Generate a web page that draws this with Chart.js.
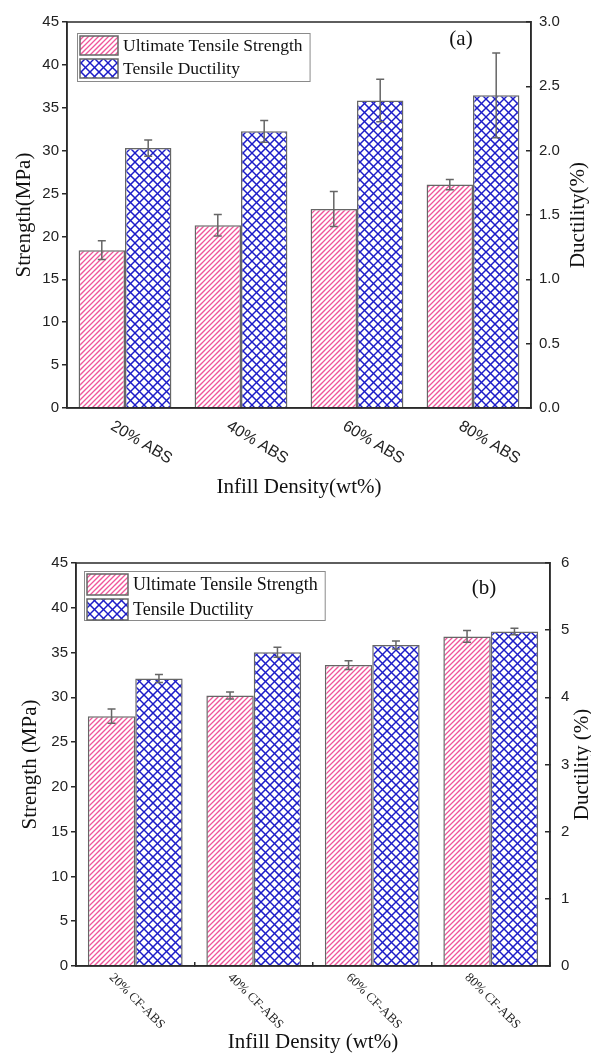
<!DOCTYPE html>
<html><head><meta charset="utf-8">
<script src="https://cdn.jsdelivr.net/npm/chart.js@4"></script>
<style>
html,body{margin:0;padding:0;background:#fff;width:591px;height:1054px;overflow:hidden}
canvas{position:absolute;left:0}
#c1{top:0}
#c2{top:515px}
</style></head><body>
<canvas id="c1" width="591" height="515"></canvas>
<canvas id="c2" width="591" height="539"></canvas>
<script>
// ---------- data ----------
const seriesLabels = ['Ultimate Tensile Strength', 'Tensile Ductility'];

const topCategories = ['20% ABS', '40% ABS', '60% ABS', '80% ABS'];
const topStrength = [18.4, 21.3, 23.2, 26.05];
const topStrengthErr = [1.1, 1.25, 2.05, 0.6];
const topDuctility = [2.02, 2.15, 2.39, 2.43];
const topDuctilityErr = [0.063, 0.085, 0.165, 0.33];

const bottomCategories = ['20% CF-ABS', '40% CF-ABS', '60% CF-ABS', '80% CF-ABS'];
const bottomStrength = [27.9, 30.2, 33.6, 36.8];
const bottomStrengthErr = [0.8, 0.4, 0.48, 0.66];
const bottomDuctility = [4.28, 4.67, 4.78, 4.98];
const bottomDuctilityErr = [0.06, 0.075, 0.06, 0.05];

// ---------- styles ----------
const SANS = '"Liberation Sans", Arial, sans-serif';
const SERIF = '"Liberation Serif", "Times New Roman", serif';
const AXIS = '#2a2a2a';
const BAR_BORDER = '#666666';
const ERR = '#666666';

function stripePattern(color) {
  const s = 20, c = document.createElement('canvas');
  c.width = c.height = s;
  const g = c.getContext('2d');
  g.fillStyle = '#fff'; g.fillRect(0, 0, s, s);
  g.strokeStyle = color; g.lineWidth = 1.3;
  for (let k = -s; k <= s; k += 5) {
    g.beginPath(); g.moveTo(k - 1, s + 1); g.lineTo(k + s + 1, -1); g.stroke();
  }
  return g.createPattern(c, 'repeat');
}
function crossPattern(color) {
  const s = 18, c = document.createElement('canvas');
  c.width = c.height = s;
  const g = c.getContext('2d');
  g.fillStyle = '#fff'; g.fillRect(0, 0, s, s);
  g.strokeStyle = color; g.lineWidth = 1.5;
  for (let k = -s; k <= s; k += 9) {
    g.beginPath(); g.moveTo(k - 1, s + 1); g.lineTo(k + s + 1, -1); g.stroke();
    g.beginPath(); g.moveTo(k - 1, -1); g.lineTo(k + s + 1, s + 1); g.stroke();
  }
  return g.createPattern(c, 'repeat');
}
const pinkFill = stripePattern('#f0559a');
const blueFill = crossPattern('#1c1cc8');

function makeChart(canvas, cfg) {
  const plugins = [{
    id: 'frameAndExtras',
    afterDatasetsDraw(chart) {
      const ctx = chart.ctx;
      // error bars
      chart.data.datasets.forEach((ds, i) => {
        const meta = chart.getDatasetMeta(i);
        const sc = chart.scales[ds.yAxisID];
        meta.data.forEach((el, j) => {
          const v = ds.data[j], e = ds.errors[j];
          const y1 = sc.getPixelForValue(v + e), y2 = sc.getPixelForValue(v - e);
          ctx.save();
          ctx.strokeStyle = ERR; ctx.lineWidth = 1.5;
          ctx.beginPath();
          ctx.moveTo(el.x, y1); ctx.lineTo(el.x, y2);
          ctx.moveTo(el.x - cfg.cap, y1); ctx.lineTo(el.x + cfg.cap, y1);
          ctx.moveTo(el.x - cfg.cap, y2); ctx.lineTo(el.x + cfg.cap, y2);
          ctx.stroke();
          ctx.restore();
        });
      });
    },
    afterDraw(chart) {
      const ctx = chart.ctx, a = chart.chartArea;
      ctx.save();
      // frame
      ctx.strokeStyle = AXIS; ctx.lineWidth = 1.5;
      ctx.strokeRect(a.left, a.top, a.right - a.left, a.bottom - a.top);
      // legend
      const L = cfg.legend;
      ctx.font = L.size + 'px ' + SERIF;
      let tw = 0;
      chart.data.datasets.forEach(ds => { tw = Math.max(tw, ctx.measureText(ds.label).width); });
      const bx = a.left + L.dx, by = a.top + L.dy;
      const bw = 3 + L.sw + 5 + tw + 7, bh = L.h;
      ctx.strokeStyle = '#8a8a8a'; ctx.lineWidth = 1;
      ctx.strokeRect(bx + 0.5, by + 0.5, bw, bh);
      chart.data.datasets.forEach((ds, i) => {
        const sy = by + 3 + i * (L.sh + 4);
        ctx.fillStyle = ds.backgroundColor;
        ctx.fillRect(bx + 3, sy, L.sw, L.sh);
        ctx.strokeStyle = BAR_BORDER; ctx.lineWidth = 1.5;
        ctx.strokeRect(bx + 3, sy, L.sw, L.sh);
        ctx.fillStyle = '#111';
        ctx.textAlign = 'left'; ctx.textBaseline = 'middle';
        ctx.fillText(ds.label, bx + 3 + L.sw + 5, sy + L.sh / 2 + 1);
      });
      // panel tag
      ctx.font = '21px ' + SERIF; ctx.fillStyle = '#111';
      ctx.textAlign = 'center'; ctx.textBaseline = 'middle';
      ctx.fillText(cfg.tag, a.right - cfg.tagDx, a.top + cfg.tagDy);
      // rotated x tick labels
      const xs = chart.scales.x;
      ctx.font = cfg.xl.font; ctx.fillStyle = '#222';
      ctx.textAlign = 'left'; ctx.textBaseline = 'middle';
      chart.data.labels.forEach((lab, i) => {
        const px = xs.getPixelForValue(i);
        ctx.save();
        ctx.translate(px + cfg.xl.dx, a.bottom + cfg.xl.dy);
        ctx.rotate(cfg.xl.angle * Math.PI / 180);
        ctx.fillText(lab, 0, 0);
        ctx.restore();
      });
      // right axis title (reads bottom-to-top)
      ctx.font = '21px ' + SERIF; ctx.fillStyle = '#111';
      ctx.textAlign = 'center'; ctx.textBaseline = 'middle';
      ctx.translate(cfg.rightTitleX, (a.top + a.bottom) / 2);
      ctx.rotate(-Math.PI / 2);
      ctx.fillText(cfg.rightTitle, 0, 0);
      ctx.restore();
    }
  }];

  return new Chart(canvas, {
    type: 'bar',
    data: {
      labels: cfg.categories,
      datasets: [
        { label: seriesLabels[0], data: cfg.strength, errors: cfg.strengthErr, yAxisID: 'y',
          backgroundColor: pinkFill, borderColor: BAR_BORDER, borderWidth: 1.5,
          categoryPercentage: 0.8, barPercentage: 1.0 },
        { label: seriesLabels[1], data: cfg.ductility, errors: cfg.ductilityErr, yAxisID: 'y1',
          backgroundColor: blueFill, borderColor: BAR_BORDER, borderWidth: 1.5,
          categoryPercentage: 0.8, barPercentage: 1.0 }
      ]
    },
    options: {
      responsive: false, animation: false, events: [],
      layout: { padding: { top: cfg.padTop, left: 0, right: 0, bottom: 0 } },
      plugins: { legend: { display: false }, tooltip: { enabled: false } },
      scales: {
        x: {
          offset: true,
          ticks: { display: false },
          grid: cfg.xTicks ? { display: true, drawOnChartArea: false, drawTicks: true, tickLength: -4, color: AXIS, lineWidth: 1.5, offset: true }
                           : { display: false },
          border: { display: true, color: AXIS, width: 1.5 },
          title: { display: true, text: cfg.xTitle, color: '#111',
                   font: { family: SERIF, size: 21, lineHeight: cfg.xTitleLH }, padding: { top: 0, bottom: cfg.xTitlePad } },
          afterFit(s) { s.height = cfg.xH; }
        },
        y: {
          position: 'left', min: 0, max: 45,
          ticks: { stepSize: 5, color: '#222', font: { family: SANS, size: 15 }, padding: cfg.leftPad },
          grid: { display: true, drawOnChartArea: false, drawTicks: true, tickLength: 5, color: AXIS, lineWidth: 1.5 },
          border: { display: true, color: AXIS, width: 1.5 },
          title: { display: true, text: cfg.leftTitle, color: '#111',
                   font: { family: SERIF, size: 21, lineHeight: 1.0 }, padding: { top: cfg.leftTitlePad, bottom: 0 } },
          afterFit(s) { s.width = cfg.leftW; }
        },
        y1: {
          position: 'right', min: 0, max: cfg.rightMax,
          ticks: { stepSize: cfg.rightStep, color: '#222', font: { family: SANS, size: 15 }, padding: cfg.rightPad,
                   callback: v => cfg.rightDec ? v.toFixed(1) : String(v) },
          grid: { display: true, drawOnChartArea: false, drawTicks: true, tickLength: -5, color: AXIS, lineWidth: 1.5 },
          border: { display: true, color: AXIS, width: 1.5 },
          afterFit(s) { s.width = cfg.rightW; }
        }
      }
    },
    plugins
  });
}

makeChart(document.getElementById('c1'), {
  categories: topCategories, strength: topStrength, strengthErr: topStrengthErr,
  ductility: topDuctility, ductilityErr: topDuctilityErr,
  padTop: 15, leftW: 67, rightW: 60, xH: 107,
  rightMax: 3, rightStep: 0.5, rightDec: true,
  leftPad: 3, rightPad: 13, xTicks: false,
  xTitle: 'Infill Density(wt%)', xTitleLH: 1.2, xTitlePad: 15,
  leftTitle: 'Strength(MPa)', leftTitlePad: 14,
  rightTitle: 'Ductility(%)', rightTitleX: 578,
  cap: 4,
  legend: { dx: 10, dy: 11, sw: 38, sh: 19, h: 48, size: 17.5 },
  tag: '(a)', tagDx: 70, tagDy: 17,
  xl: { font: '16px ' + SANS, angle: 31, dx: -13, dy: 17 }
});

makeChart(document.getElementById('c2'), {
  categories: bottomCategories, strength: bottomStrength, strengthErr: bottomStrengthErr,
  ductility: bottomDuctility, ductilityErr: bottomDuctilityErr,
  padTop: 48, leftW: 76, rightW: 41, xH: 88,
  rightMax: 6, rightStep: 1, rightDec: false,
  leftPad: 3, rightPad: 16, xTicks: true,
  xTitle: 'Infill Density (wt%)', xTitleLH: 1.0, xTitlePad: 1,
  leftTitle: 'Strength (MPa)', leftTitlePad: 20,
  rightTitle: 'Ductility (%)', rightTitleX: 582,
  cap: 4,
  legend: { dx: 8, dy: 8, sw: 41, sh: 21, h: 49, size: 18 },
  tag: '(b)', tagDx: 66, tagDy: 25,
  xl: { font: '13px ' + SERIF, angle: 45, dx: -24, dy: 9.5 }
});
</script>
</body></html>
